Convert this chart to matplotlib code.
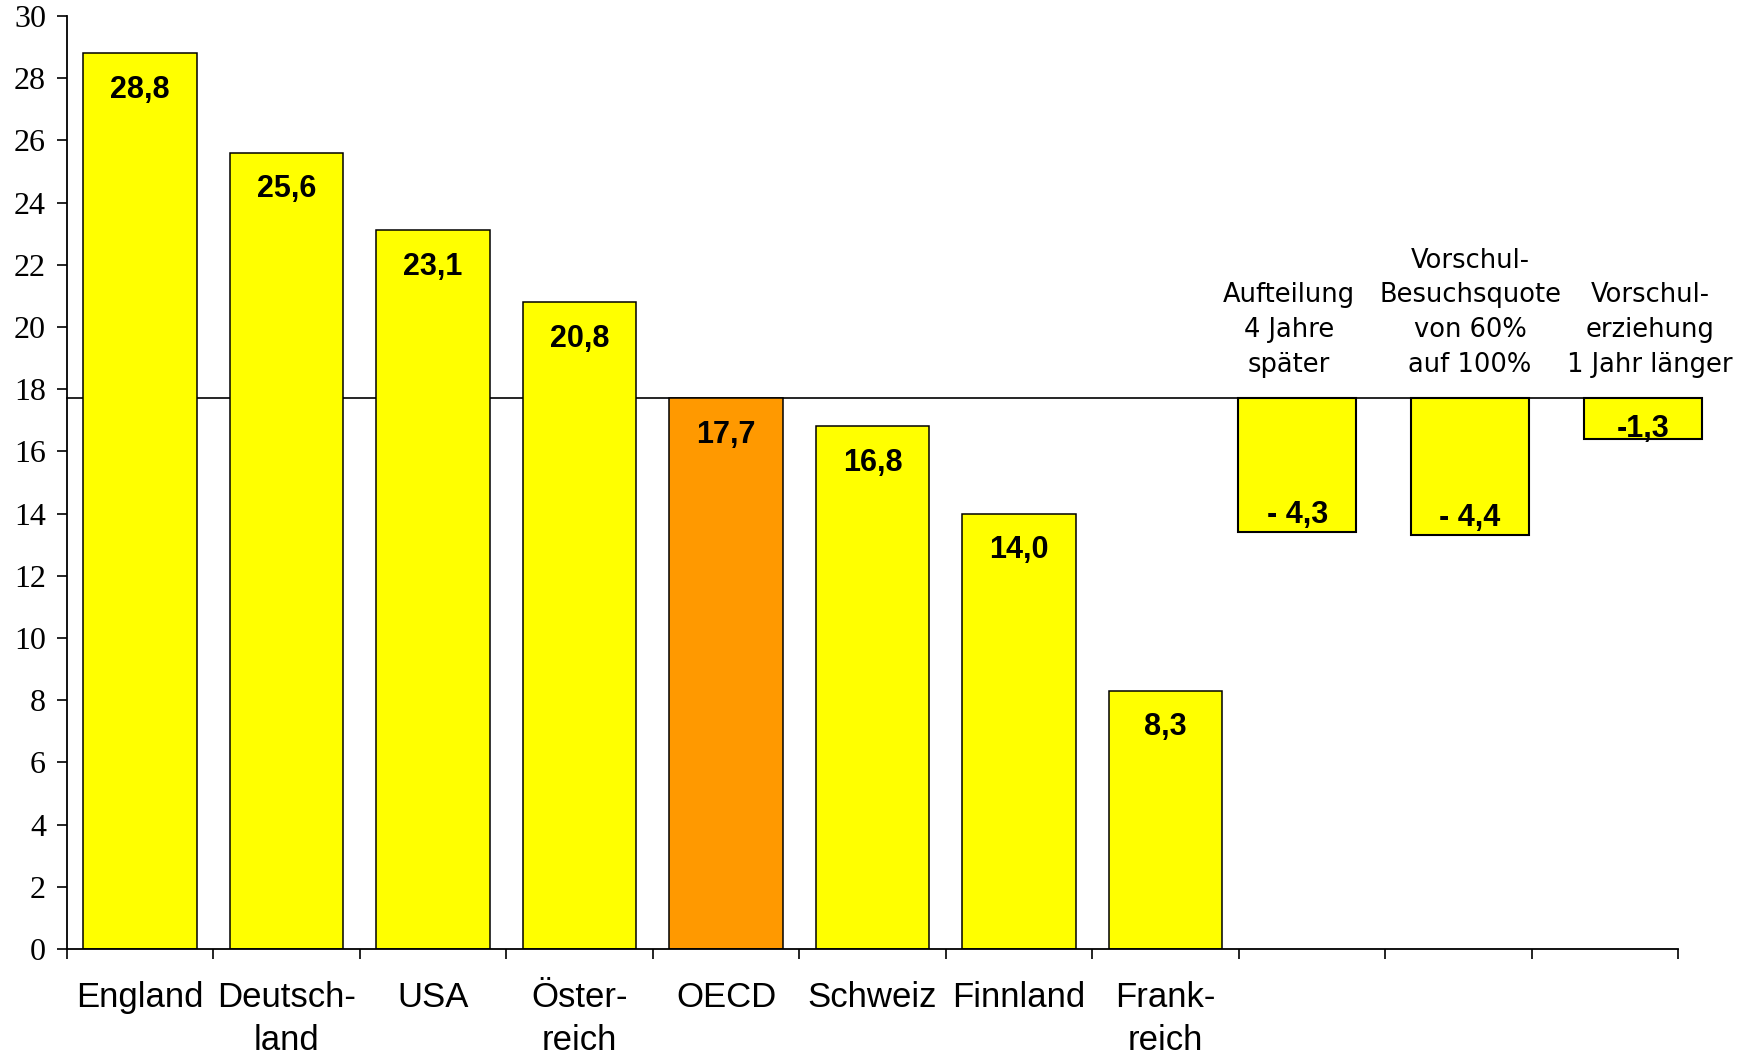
import matplotlib
matplotlib.use("Agg")
from matplotlib import pyplot as plt
from matplotlib import font_manager
import numpy as np

# Countries and their values
countries = ["England", "Deutsch-\nland", "USA", "Öster-\nreich", "OECD",
             "Schweiz", "Finnland", "Frank-\nreich"]
values = [28.8, 25.6, 23.1, 20.8, 17.7, 16.8, 14.0, 8.3]
value_labels = ["28,8", "25,6", "23,1", "20,8", "17,7", "16,8", "14,0", "8,3"]

# Scenario effects relative to the OECD mean
scenarios = ["Aufteilung\n4 Jahre\nspäter",
             "Vorschul-\nBesuchsquote\nvon 60%\nauf 100%",
             "Vorschul-\nerziehung\n1 Jahr länger"]
deltas = [-4.3, -4.4, -1.3]
delta_labels = ["- 4,3", "- 4,4", "-1,3"]

N_SLOTS = 11
OECD_INDEX = countries.index("OECD")
YELLOW = "#FFFF00"
ORANGE = "#FF9900"


def pick_font(*names):
    for name in names:
        try:
            font_manager.findfont(name, fallback_to_default=False)
            return name
        except ValueError:
            continue
    return "DejaVu Sans"


sans_font = pick_font("Liberation Sans", "DejaVu Sans")
serif_font = pick_font("Liberation Serif", "DejaVu Serif")

fig = plt.figure(figsize=(17.52, 10.58), dpi=100)
ax = fig.add_axes([0.0382, 0.103, 0.9196, 0.882])

ax.set_xlim(0, N_SLOTS)
ax.set_ylim(0, 30)

base = values[OECD_INDEX]

# scenario bar positions (they sit on their own spacing, not the country slots)
sx = 8.40 + 1.18 * np.arange(len(deltas))
s_width = 0.807

# reference line at the OECD mean, behind the bars
ax.plot([0, sx[-1] - s_width / 2], [base, base], color="black", lw=1.2,
        zorder=1, clip_on=False)

x = np.arange(len(values)) + 0.5
colors = [ORANGE if i == OECD_INDEX else YELLOW for i in range(len(values))]
ax.bar(x, values, width=0.775, color=colors, edgecolor="black", linewidth=1.1, zorder=2)

for xi, v, lab in zip(x, values, value_labels):
    ax.annotate(lab, (xi, v), xytext=(0, -15.5), textcoords="offset points",
                ha="center", va="top", fontsize=22, fontweight="bold",
                family=sans_font, zorder=3)

# scenario bars hanging from the OECD line
ax.bar(sx, deltas, bottom=base, width=s_width, color=YELLOW, edgecolor="black",
       linewidth=1.5, zorder=2, clip_on=False)

for xi, d, lab in zip(sx, deltas, delta_labels):
    off = 6.5 if abs(d) > 2 else 1.5
    ax.annotate(lab, (xi, base + d), xytext=(0, off), textcoords="offset points",
                ha="center", va="baseline", fontsize=22, fontweight="bold",
                family=sans_font, zorder=3, annotation_clip=False)

for xi, dx, txt in zip(sx, [-6, 0, 5], scenarios):
    ax.annotate(txt, (xi, base), xytext=(dx, 15), textcoords="offset points",
                ha="center", va="bottom", multialignment="center",
                fontsize=18.5, linespacing=1.43, family="DejaVu Sans",
                annotation_clip=False)

# axes styling
for side in ("top", "right"):
    ax.spines[side].set_visible(False)
for side in ("left", "bottom"):
    ax.spines[side].set_linewidth(1.3)

ax.set_yticks(np.arange(0, 31, 2))
ax.set_yticklabels([str(t) for t in range(0, 31, 2)], family=serif_font, fontsize=23)
ax.tick_params(axis="y", direction="out", length=7, width=1.2, pad=8)

ax.set_xticks(np.arange(N_SLOTS + 1))
ax.set_xticklabels([])
ax.tick_params(axis="x", which="major", direction="out", length=7, width=1.2)
ax.set_xticks(np.arange(N_SLOTS) + 0.5, minor=True)
ax.set_xticklabels(countries + [""] * (N_SLOTS - len(countries)), minor=True,
                   family=sans_font, fontsize=25, linespacing=1.4,
                   va="top", ha="center", multialignment="center")
ax.tick_params(axis="x", which="minor", length=0, pad=23)

fig.savefig("out.png", dpi=100)
